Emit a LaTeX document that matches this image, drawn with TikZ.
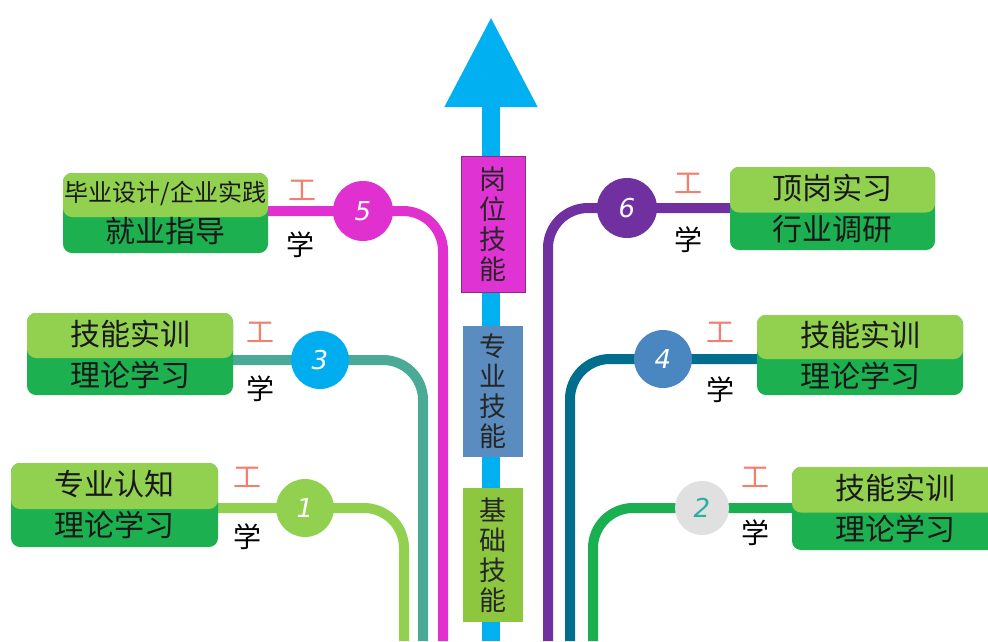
\documentclass[tikz,border=0pt]{standalone}
\usepackage{fontspec}
\setmainfont{Noto Sans CJK SC}
\newfontfamily\numfont{DejaVu Sans}
\usetikzlibrary{arrows.meta,calc}
\pgfdeclarelayer{background}
\pgfsetlayers{background,main}
\definecolor{shaft}{HTML}{00B0F0}
\definecolor{boxlight}{HTML}{92D050}
\definecolor{boxdark}{HTML}{1DB050}
\definecolor{gwmag}{HTML}{E033D3}
\definecolor{gwborder}{HTML}{8A2A80}
\definecolor{zyblue}{HTML}{5A8CC0}
\definecolor{jcgreen}{HTML}{8DC63F}
\definecolor{lone}{HTML}{92D050}
\definecolor{lthree}{HTML}{4AAA96}
\definecolor{cthree}{HTML}{00AEEF}
\definecolor{lfive}{HTML}{E030D0}
\definecolor{lsix}{HTML}{7030A0}
\definecolor{lfour}{HTML}{006E8C}
\definecolor{cfour}{HTML}{4A86C0}
\definecolor{ltwo}{HTML}{1AAF50}
\definecolor{ctwo}{HTML}{E0E0E0}
\definecolor{ntwo}{HTML}{2AB0A0}
\definecolor{gongcol}{HTML}{F08070}
\begin{document}
\begin{tikzpicture}[x=1pt,y=-1pt,
  twotone/.style={rounded corners=9pt, fill=boxdark, minimum width=206pt,
    minimum height=82pt, inner sep=0pt, align=center, text=black!90,
    font=\fontsize{30}{41}\selectfont,
    path picture={\fill[boxlight] (path picture bounding box.north west)
      rectangle ([yshift=-4pt]path picture bounding box.east);}},
  numcirc/.style={circle, minimum size=58pt, inner sep=0pt, text=white,
    font=\numfont\itshape\fontsize{26}{26}\selectfont},
  branch/.style={line width=10pt, rounded corners=40pt},
  gong/.style={text=gongcol, font=\fontsize{28}{28}\selectfont, inner sep=0pt},
  xue/.style={text=black, font=\fontsize{28}{28}\selectfont, inner sep=0pt},
  skill/.style={inner sep=0pt, align=center, text=black!85,
    font=\fontsize{27}{30}\selectfont}
]
\useasboundingbox (0,0) rectangle (988,641);

% central arrow
\coordinate (sbot) at (491,641);
\coordinate (stip) at (491,17);
\draw[shaft, line width=18pt, -{Triangle[length=90pt,width=88pt]}] (sbot) -- (stip);

% bottom ends of the branch lines
\coordinate (v1) at (404,641);
\coordinate (v3) at (423,641);
\coordinate (v5) at (443,641);
\coordinate (v6) at (548,641);
\coordinate (v4) at (570,641);
\coordinate (v2) at (593,641);

% numbered circles
\node[numcirc, fill=lone] (c1) at (305,508) {1};
\node[numcirc, fill=cthree] (c3) at (320,360) {3};
\node[numcirc, fill=lfive, minimum size=60pt] (c5) at (363,211) {5};
\node[numcirc, fill=lsix, minimum size=60pt] (c6) at (627,208) {6};
\node[numcirc, fill=cfour] (c4) at (663,359) {4};
\node[numcirc, fill=ctwo, text=ntwo, minimum size=54pt] (c2) at (702,508) {2};

% activity boxes
\node[twotone, minimum width=207pt, minimum height=84pt] (b1) at (114.5,505) {专业认知\\理论学习};
\node[twotone] (b3) at (130,354) {技能实训\\理论学习};
\node[twotone, minimum width=205pt, minimum height=80pt] (b5) at (165.5,213) {{\fontsize{24}{41}\selectfont 毕业设计/企业实践}\\就业指导};
\node[twotone, minimum width=205pt, minimum height=83pt] (b6) at (832.5,208.5) {顶岗实习\\行业调研};
\node[twotone, minimum height=80pt] (b4) at (860,355) {技能实训\\理论学习};
\node[twotone, minimum height=83pt] (b2) at (895,508.5) {技能实训\\理论学习};

% branch lines (behind boxes and circles)
\begin{pgfonlayer}{background}
\fill[white] (0,0) rectangle (988,641);
\draw[branch, lone] (b1.east |- c1) -- (c1.center) -| (v1);
\draw[branch, lthree] (b3.east |- c3) -- (c3.center) -| (v3);
\draw[branch, lfive] (b5.east |- c5) -- (c5.center) -| (v5);
\draw[branch, lsix] (b6.west |- c6) -- (c6.center) -| (v6);
\draw[branch, lfour] (b4.west |- c4) -- (c4.center) -| (v4);
\draw[branch, ltwo] (b2.west |- c2) -- (c2.center) -| (v2);
\end{pgfonlayer}

% labels
\node[gong] (g1) at (247,477) {工};  \node[xue] (x1) at (247,537) {学};
\node[gong] (g3) at (260,332) {工};  \node[xue] (x3) at (260,389) {学};
\node[gong] (g5) at (302,190) {工};  \node[xue] (x5) at (300,245) {学};
\node[gong] (g6) at (688,183) {工};  \node[xue] (x6) at (688,240) {学};
\node[gong] (g4) at (720,332) {工};  \node[xue] (x4) at (720,390) {学};
\node[gong] (g2) at (755,477) {工};  \node[xue] (x2) at (755,533) {学};

% skill boxes
\node[skill, fill=gwmag, draw=gwborder, line width=1pt, minimum width=64pt, minimum height=136pt] (gw) at (493,224) {岗\\位\\技\\能};
\node[skill, fill=zyblue, minimum width=60pt, minimum height=131pt] (zy) at (493,391.5) {专\\业\\技\\能};
\node[skill, fill=jcgreen, minimum width=60pt, minimum height=134pt] (jc) at (493,555) {基\\础\\技\\能};
\end{tikzpicture}
\end{document}
